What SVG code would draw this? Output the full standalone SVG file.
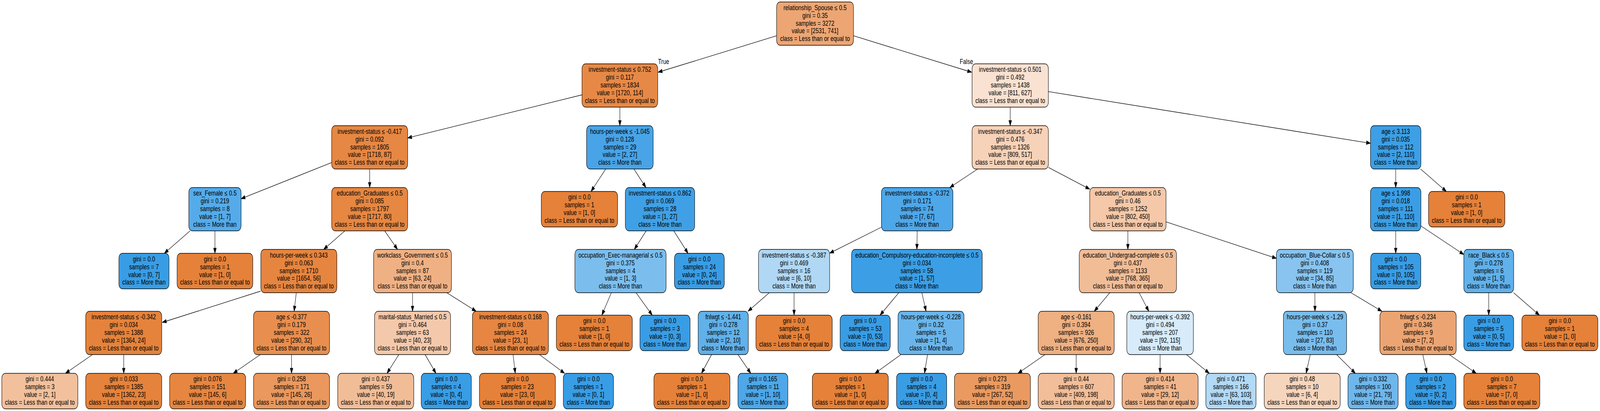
<svg xmlns="http://www.w3.org/2000/svg" width="5263" height="1053" viewBox="0 0 5263 1053" preserveAspectRatio="none">
<style>
svg{width:100vw;height:100vh}
text{font-family:"Liberation Sans",Arial,Helvetica,sans-serif;font-size:18px;fill:#000;text-anchor:middle}
.nd rect{stroke:#000;stroke-width:1.33}
.edges line{stroke:#000;stroke-width:1.33;fill:none}
</style>
<defs>
<marker id="ah" markerUnits="userSpaceOnUse" markerWidth="16" markerHeight="12" refX="13.3" refY="4.67" orient="auto" overflow="visible">
<path d="M0,0 L13.3,4.67 L0,9.33 z" fill="#000" stroke="#000" stroke-width="1"/>
</marker>
</defs>
<rect x="0" y="0" width="5263" height="1053" fill="#fff"/>
<g id="edges" class="edges">
<line x1="2554.5" y1="91.7" x2="2165" y2="185" marker-end="url(#ah)"/>
<line x1="2807.5" y1="91.7" x2="3196" y2="185" marker-end="url(#ah)"/>
<line x1="1914.5" y1="243" x2="1341" y2="353.4" marker-end="url(#ah)"/>
<line x1="2039" y1="274.5" x2="2039" y2="322" marker-end="url(#ah)"/>
<line x1="1091" y1="416.4" x2="793" y2="509.2" marker-end="url(#ah)"/>
<line x1="1216" y1="433" x2="1216" y2="480.5" marker-end="url(#ah)"/>
<line x1="625.2" y1="591.5" x2="540.5" y2="649" marker-end="url(#ah)"/>
<line x1="707" y1="591.5" x2="707" y2="649" marker-end="url(#ah)"/>
<line x1="1134.4" y1="591.5" x2="1064.6" y2="639" marker-end="url(#ah)"/>
<line x1="1265.4" y1="591.5" x2="1307.6" y2="639" marker-end="url(#ah)"/>
<line x1="857" y1="746" x2="534" y2="826" marker-end="url(#ah)"/>
<line x1="974.6" y1="750" x2="967.4" y2="797.5" marker-end="url(#ah)"/>
<line x1="304.2" y1="908.5" x2="215.3" y2="956.5" marker-end="url(#ah)"/>
<line x1="407" y1="908.5" x2="407" y2="956.5" marker-end="url(#ah)"/>
<line x1="856.2" y1="908.5" x2="767.3" y2="956.5" marker-end="url(#ah)"/>
<line x1="959" y1="908.5" x2="959" y2="956.5" marker-end="url(#ah)"/>
<line x1="1357" y1="750" x2="1357" y2="797.5" marker-end="url(#ah)"/>
<line x1="1469.8" y1="750" x2="1566.3" y2="797.5" marker-end="url(#ah)"/>
<line x1="1311.9" y1="908.5" x2="1273" y2="956.5" marker-end="url(#ah)"/>
<line x1="1398.3" y1="908.5" x2="1434.1" y2="956.5" marker-end="url(#ah)"/>
<line x1="1687.6" y1="908.5" x2="1695" y2="956.5" marker-end="url(#ah)"/>
<line x1="1774.5" y1="908.5" x2="1857.2" y2="956.5" marker-end="url(#ah)"/>
<line x1="1992.4" y1="433" x2="1944.2" y2="490.5" marker-end="url(#ah)"/>
<line x1="2085.2" y1="433" x2="2124.8" y2="480.5" marker-end="url(#ah)"/>
<line x1="2125.5" y1="591.5" x2="2086.5" y2="639" marker-end="url(#ah)"/>
<line x1="2216.3" y1="591.5" x2="2263.3" y2="649" marker-end="url(#ah)"/>
<line x1="2010.9" y1="750" x2="1979.7" y2="807.5" marker-end="url(#ah)"/>
<line x1="2092.3" y1="750" x2="2145.4" y2="807.5" marker-end="url(#ah)"/>
<line x1="3323" y1="274.5" x2="3323" y2="322" marker-end="url(#ah)"/>
<line x1="3448.5" y1="234.7" x2="4508" y2="367.1" marker-end="url(#ah)"/>
<line x1="3215.9" y1="433" x2="3124.2" y2="480.5" marker-end="url(#ah)"/>
<line x1="3448.5" y1="428.9" x2="3584.5" y2="484.6" marker-end="url(#ah)"/>
<line x1="2899.5" y1="582" x2="2729" y2="648.7" marker-end="url(#ah)"/>
<line x1="3017" y1="591.5" x2="3016" y2="639" marker-end="url(#ah)"/>
<line x1="2530.4" y1="750" x2="2460.6" y2="797.5" marker-end="url(#ah)"/>
<line x1="2612" y1="750" x2="2612" y2="807.5" marker-end="url(#ah)"/>
<line x1="2340.6" y1="908.5" x2="2307.5" y2="956.5" marker-end="url(#ah)"/>
<line x1="2427.6" y1="908.5" x2="2469.6" y2="956.5" marker-end="url(#ah)"/>
<line x1="2956.5" y1="750" x2="2894.8" y2="807.5" marker-end="url(#ah)"/>
<line x1="3032.3" y1="750" x2="3046.2" y2="797.5" marker-end="url(#ah)"/>
<line x1="2963.6" y1="908.5" x2="2878.1" y2="956.5" marker-end="url(#ah)"/>
<line x1="3051" y1="908.5" x2="3041" y2="956.5" marker-end="url(#ah)"/>
<line x1="3710" y1="591.5" x2="3710" y2="639" marker-end="url(#ah)"/>
<line x1="3835.5" y1="568.3" x2="4198.5" y2="661.9" marker-end="url(#ah)"/>
<line x1="3650.5" y1="750" x2="3599.5" y2="797.5" marker-end="url(#ah)"/>
<line x1="3747.1" y1="750" x2="3778.9" y2="797.5" marker-end="url(#ah)"/>
<line x1="3437.4" y1="908.5" x2="3348.6" y2="956.5" marker-end="url(#ah)"/>
<line x1="3540" y1="908.5" x2="3540" y2="956.5" marker-end="url(#ah)"/>
<line x1="3816" y1="908.5" x2="3816" y2="956.5" marker-end="url(#ah)"/>
<line x1="3902.8" y1="908.5" x2="3977.8" y2="956.5" marker-end="url(#ah)"/>
<line x1="4325" y1="750" x2="4325.5" y2="797.5" marker-end="url(#ah)"/>
<line x1="4443.9" y1="750" x2="4545.6" y2="797.5" marker-end="url(#ah)"/>
<line x1="4309.9" y1="908.5" x2="4296.3" y2="956.5" marker-end="url(#ah)"/>
<line x1="4396.6" y1="908.5" x2="4458.2" y2="956.5" marker-end="url(#ah)"/>
<line x1="4680.1" y1="908.5" x2="4693.7" y2="956.5" marker-end="url(#ah)"/>
<line x1="4767.1" y1="908.5" x2="4855.9" y2="956.5" marker-end="url(#ah)"/>
<line x1="4591" y1="433" x2="4591" y2="480.5" marker-end="url(#ah)"/>
<line x1="4672.8" y1="433" x2="4757.5" y2="490.5" marker-end="url(#ah)"/>
<line x1="4591" y1="591.5" x2="4591" y2="649" marker-end="url(#ah)"/>
<line x1="4674" y1="579" x2="4815" y2="652" marker-end="url(#ah)"/>
<line x1="4897" y1="750" x2="4897" y2="807.5" marker-end="url(#ah)"/>
<line x1="4978.9" y1="750" x2="5063.8" y2="807.5" marker-end="url(#ah)"/>
<text x="2183" y="164">True</text>
<text x="3179" y="164">False</text>
</g>

<g id="n0" class="nd" transform="translate(2681,60.5)"><rect x="-126.5" y="-55.5" width="253" height="111" rx="12" fill="#eda673"/><text><tspan x="0" y="-35">relationship_Spouse ≤ 0.5</tspan><tspan x="0" y="-15">gini = 0.35</tspan><tspan x="0" y="5">samples = 3272</tspan><tspan x="0" y="25">value = [2531, 741]</tspan><tspan x="0" y="45">class = Less than or equal to</tspan></text></g>
<g id="n1" class="nd" transform="translate(2039,219)"><rect x="-124.5" y="-55.5" width="249" height="111" rx="12" fill="#e78946"/><text><tspan x="0" y="-35">investment-status ≤ 0.752</tspan><tspan x="0" y="-15">gini = 0.117</tspan><tspan x="0" y="5">samples = 1834</tspan><tspan x="0" y="25">value = [1720, 114]</tspan><tspan x="0" y="45">class = Less than or equal to</tspan></text></g>
<g id="n2" class="nd" transform="translate(1216,377.5)"><rect x="-125" y="-55.5" width="250" height="111" rx="12" fill="#e68743"/><text><tspan x="0" y="-35">investment-status ≤ -0.417</tspan><tspan x="0" y="-15">gini = 0.092</tspan><tspan x="0" y="5">samples = 1805</tspan><tspan x="0" y="25">value = [1718, 87]</tspan><tspan x="0" y="45">class = Less than or equal to</tspan></text></g>
<g id="n3" class="nd" transform="translate(707,536)"><rect x="-86" y="-55.5" width="172" height="111" rx="12" fill="#55abe9"/><text><tspan x="0" y="-35">sex_Female ≤ 0.5</tspan><tspan x="0" y="-15">gini = 0.219</tspan><tspan x="0" y="5">samples = 8</tspan><tspan x="0" y="25">value = [1, 7]</tspan><tspan x="0" y="45">class = More than</tspan></text></g>
<g id="n4" class="nd" transform="translate(473.5,694.5)"><rect x="-82.5" y="-45.5" width="165" height="91" rx="12" fill="#399de5"/><text><tspan x="0" y="-25">gini = 0.0</tspan><tspan x="0" y="-5">samples = 7</tspan><tspan x="0" y="15">value = [0, 7]</tspan><tspan x="0" y="35">class = More than</tspan></text></g>
<g id="n5" class="nd" transform="translate(707,694.5)"><rect x="-124.5" y="-45.5" width="249" height="91" rx="12" fill="#e58139"/><text><tspan x="0" y="-25">gini = 0.0</tspan><tspan x="0" y="-5">samples = 1</tspan><tspan x="0" y="15">value = [1, 0]</tspan><tspan x="0" y="35">class = Less than or equal to</tspan></text></g>
<g id="n6" class="nd" transform="translate(1216,536)"><rect x="-125" y="-55.5" width="250" height="111" rx="12" fill="#e68742"/><text><tspan x="0" y="-35">education_Graduates ≤ 0.5</tspan><tspan x="0" y="-15">gini = 0.085</tspan><tspan x="0" y="5">samples = 1797</tspan><tspan x="0" y="25">value = [1717, 80]</tspan><tspan x="0" y="45">class = Less than or equal to</tspan></text></g>
<g id="n7" class="nd" transform="translate(983,694.5)"><rect x="-125" y="-55.5" width="250" height="111" rx="12" fill="#e6853f"/><text><tspan x="0" y="-35">hours-per-week ≤ 0.343</tspan><tspan x="0" y="-15">gini = 0.063</tspan><tspan x="0" y="5">samples = 1710</tspan><tspan x="0" y="25">value = [1654, 56]</tspan><tspan x="0" y="45">class = Less than or equal to</tspan></text></g>
<g id="n8" class="nd" transform="translate(407,853)"><rect x="-125" y="-55.5" width="250" height="111" rx="12" fill="#e5833c"/><text><tspan x="0" y="-35">investment-status ≤ -0.342</tspan><tspan x="0" y="-15">gini = 0.034</tspan><tspan x="0" y="5">samples = 1388</tspan><tspan x="0" y="25">value = [1364, 24]</tspan><tspan x="0" y="45">class = Less than or equal to</tspan></text></g>
<g id="n9" class="nd" transform="translate(131,1002)"><rect x="-125" y="-45.5" width="250" height="91" rx="12" fill="#f2c09c"/><text><tspan x="0" y="-25">gini = 0.444</tspan><tspan x="0" y="-5">samples = 3</tspan><tspan x="0" y="15">value = [2, 1]</tspan><tspan x="0" y="35">class = Less than or equal to</tspan></text></g>
<g id="n10" class="nd" transform="translate(407,1002)"><rect x="-125" y="-45.5" width="250" height="91" rx="12" fill="#e5833c"/><text><tspan x="0" y="-25">gini = 0.033</tspan><tspan x="0" y="-5">samples = 1385</tspan><tspan x="0" y="15">value = [1362, 23]</tspan><tspan x="0" y="35">class = Less than or equal to</tspan></text></g>
<g id="n11" class="nd" transform="translate(959,853)"><rect x="-125" y="-55.5" width="250" height="111" rx="12" fill="#e88f4f"/><text><tspan x="0" y="-35">age ≤ -0.377</tspan><tspan x="0" y="-15">gini = 0.179</tspan><tspan x="0" y="5">samples = 322</tspan><tspan x="0" y="25">value = [290, 32]</tspan><tspan x="0" y="45">class = Less than or equal to</tspan></text></g>
<g id="n12" class="nd" transform="translate(683,1002)"><rect x="-125" y="-45.5" width="250" height="91" rx="12" fill="#e68641"/><text><tspan x="0" y="-25">gini = 0.076</tspan><tspan x="0" y="-5">samples = 151</tspan><tspan x="0" y="15">value = [145, 6]</tspan><tspan x="0" y="35">class = Less than or equal to</tspan></text></g>
<g id="n13" class="nd" transform="translate(959,1002)"><rect x="-125" y="-45.5" width="250" height="91" rx="12" fill="#ea985d"/><text><tspan x="0" y="-25">gini = 0.258</tspan><tspan x="0" y="-5">samples = 171</tspan><tspan x="0" y="15">value = [145, 26]</tspan><tspan x="0" y="35">class = Less than or equal to</tspan></text></g>
<g id="n14" class="nd" transform="translate(1357,694.5)"><rect x="-128" y="-55.5" width="256" height="111" rx="12" fill="#efb184"/><text><tspan x="0" y="-35">workclass_Government ≤ 0.5</tspan><tspan x="0" y="-15">gini = 0.4</tspan><tspan x="0" y="5">samples = 87</tspan><tspan x="0" y="25">value = [63, 24]</tspan><tspan x="0" y="45">class = Less than or equal to</tspan></text></g>
<g id="n15" class="nd" transform="translate(1357,853)"><rect x="-125" y="-55.5" width="250" height="111" rx="12" fill="#f4c9ab"/><text><tspan x="0" y="-35">marital-status_Married ≤ 0.5</tspan><tspan x="0" y="-15">gini = 0.464</tspan><tspan x="0" y="5">samples = 63</tspan><tspan x="0" y="25">value = [40, 23]</tspan><tspan x="0" y="45">class = Less than or equal to</tspan></text></g>
<g id="n16" class="nd" transform="translate(1236,1002)"><rect x="-125" y="-45.5" width="250" height="91" rx="12" fill="#f1bd97"/><text><tspan x="0" y="-25">gini = 0.437</tspan><tspan x="0" y="-5">samples = 59</tspan><tspan x="0" y="15">value = [40, 19]</tspan><tspan x="0" y="35">class = Less than or equal to</tspan></text></g>
<g id="n17" class="nd" transform="translate(1468,1002)"><rect x="-82.5" y="-45.5" width="165" height="91" rx="12" fill="#399de5"/><text><tspan x="0" y="-25">gini = 0.0</tspan><tspan x="0" y="-5">samples = 4</tspan><tspan x="0" y="15">value = [0, 4]</tspan><tspan x="0" y="35">class = More than</tspan></text></g>
<g id="n18" class="nd" transform="translate(1679,853)"><rect x="-125" y="-55.5" width="250" height="111" rx="12" fill="#e68642"/><text><tspan x="0" y="-35">investment-status ≤ 0.168</tspan><tspan x="0" y="-15">gini = 0.08</tspan><tspan x="0" y="5">samples = 24</tspan><tspan x="0" y="25">value = [23, 1]</tspan><tspan x="0" y="45">class = Less than or equal to</tspan></text></g>
<g id="n19" class="nd" transform="translate(1702,1002)"><rect x="-125" y="-45.5" width="250" height="91" rx="12" fill="#e58139"/><text><tspan x="0" y="-25">gini = 0.0</tspan><tspan x="0" y="-5">samples = 23</tspan><tspan x="0" y="15">value = [23, 0]</tspan><tspan x="0" y="35">class = Less than or equal to</tspan></text></g>
<g id="n20" class="nd" transform="translate(1935.5,1002)"><rect x="-82.5" y="-45.5" width="165" height="91" rx="12" fill="#399de5"/><text><tspan x="0" y="-25">gini = 0.0</tspan><tspan x="0" y="-5">samples = 1</tspan><tspan x="0" y="15">value = [0, 1]</tspan><tspan x="0" y="35">class = More than</tspan></text></g>
<g id="n21" class="nd" transform="translate(2039,377.5)"><rect x="-109.5" y="-55.5" width="219" height="111" rx="12" fill="#48a4e7"/><text><tspan x="0" y="-35">hours-per-week ≤ -1.045</tspan><tspan x="0" y="-15">gini = 0.128</tspan><tspan x="0" y="5">samples = 29</tspan><tspan x="0" y="25">value = [2, 27]</tspan><tspan x="0" y="45">class = More than</tspan></text></g>
<g id="n22" class="nd" transform="translate(1906,536)"><rect x="-125.5" y="-45.5" width="251" height="91" rx="12" fill="#e58139"/><text><tspan x="0" y="-25">gini = 0.0</tspan><tspan x="0" y="-5">samples = 1</tspan><tspan x="0" y="15">value = [1, 0]</tspan><tspan x="0" y="35">class = Less than or equal to</tspan></text></g>
<g id="n23" class="nd" transform="translate(2171,536)"><rect x="-114" y="-55.5" width="228" height="111" rx="12" fill="#40a0e6"/><text><tspan x="0" y="-35">investment-status ≤ 0.862</tspan><tspan x="0" y="-15">gini = 0.069</tspan><tspan x="0" y="5">samples = 28</tspan><tspan x="0" y="25">value = [1, 27]</tspan><tspan x="0" y="45">class = More than</tspan></text></g>
<g id="n24" class="nd" transform="translate(2041,694.5)"><rect x="-150" y="-55.5" width="300" height="111" rx="12" fill="#7bbeee"/><text><tspan x="0" y="-35">occupation_Exec-managerial ≤ 0.5</tspan><tspan x="0" y="-15">gini = 0.375</tspan><tspan x="0" y="5">samples = 4</tspan><tspan x="0" y="25">value = [1, 3]</tspan><tspan x="0" y="45">class = More than</tspan></text></g>
<g id="n25" class="nd" transform="translate(1955,853)"><rect x="-125" y="-45.5" width="250" height="91" rx="12" fill="#e58139"/><text><tspan x="0" y="-25">gini = 0.0</tspan><tspan x="0" y="-5">samples = 1</tspan><tspan x="0" y="15">value = [1, 0]</tspan><tspan x="0" y="35">class = Less than or equal to</tspan></text></g>
<g id="n26" class="nd" transform="translate(2187.5,853)"><rect x="-82.5" y="-45.5" width="165" height="91" rx="12" fill="#399de5"/><text><tspan x="0" y="-25">gini = 0.0</tspan><tspan x="0" y="-5">samples = 3</tspan><tspan x="0" y="15">value = [0, 3]</tspan><tspan x="0" y="35">class = More than</tspan></text></g>
<g id="n27" class="nd" transform="translate(2300.5,694.5)"><rect x="-82" y="-45.5" width="164" height="91" rx="12" fill="#399de5"/><text><tspan x="0" y="-25">gini = 0.0</tspan><tspan x="0" y="-5">samples = 24</tspan><tspan x="0" y="15">value = [0, 24]</tspan><tspan x="0" y="35">class = More than</tspan></text></g>
<g id="n28" class="nd" transform="translate(3323,219)"><rect x="-125.5" y="-55.5" width="251" height="111" rx="12" fill="#f9e2d2"/><text><tspan x="0" y="-35">investment-status ≤ 0.501</tspan><tspan x="0" y="-15">gini = 0.492</tspan><tspan x="0" y="5">samples = 1438</tspan><tspan x="0" y="25">value = [811, 627]</tspan><tspan x="0" y="45">class = Less than or equal to</tspan></text></g>
<g id="n29" class="nd" transform="translate(3323,377.5)"><rect x="-125.5" y="-55.5" width="251" height="111" rx="12" fill="#f6d2b8"/><text><tspan x="0" y="-35">investment-status ≤ -0.347</tspan><tspan x="0" y="-15">gini = 0.476</tspan><tspan x="0" y="5">samples = 1326</tspan><tspan x="0" y="25">value = [809, 517]</tspan><tspan x="0" y="45">class = Less than or equal to</tspan></text></g>
<g id="n30" class="nd" transform="translate(3017,536)"><rect x="-117.5" y="-55.5" width="235" height="111" rx="12" fill="#4ea7e8"/><text><tspan x="0" y="-35">investment-status ≤ -0.372</tspan><tspan x="0" y="-15">gini = 0.171</tspan><tspan x="0" y="5">samples = 74</tspan><tspan x="0" y="25">value = [7, 67]</tspan><tspan x="0" y="45">class = More than</tspan></text></g>
<g id="n31" class="nd" transform="translate(2612,694.5)"><rect x="-117" y="-55.5" width="234" height="111" rx="12" fill="#b0d8f5"/><text><tspan x="0" y="-35">investment-status ≤ -0.387</tspan><tspan x="0" y="-15">gini = 0.469</tspan><tspan x="0" y="5">samples = 16</tspan><tspan x="0" y="25">value = [6, 10]</tspan><tspan x="0" y="45">class = More than</tspan></text></g>
<g id="n32" class="nd" transform="translate(2379,853)"><rect x="-82.5" y="-55.5" width="165" height="111" rx="12" fill="#61b1ea"/><text><tspan x="0" y="-35">fnlwgt ≤ -1.441</tspan><tspan x="0" y="-15">gini = 0.278</tspan><tspan x="0" y="5">samples = 12</tspan><tspan x="0" y="25">value = [2, 10]</tspan><tspan x="0" y="45">class = More than</tspan></text></g>
<g id="n33" class="nd" transform="translate(2276,1002)"><rect x="-125" y="-45.5" width="250" height="91" rx="12" fill="#e58139"/><text><tspan x="0" y="-25">gini = 0.0</tspan><tspan x="0" y="-5">samples = 1</tspan><tspan x="0" y="15">value = [1, 0]</tspan><tspan x="0" y="35">class = Less than or equal to</tspan></text></g>
<g id="n34" class="nd" transform="translate(2509.5,1002)"><rect x="-82" y="-45.5" width="164" height="91" rx="12" fill="#4da7e8"/><text><tspan x="0" y="-25">gini = 0.165</tspan><tspan x="0" y="-5">samples = 11</tspan><tspan x="0" y="15">value = [1, 10]</tspan><tspan x="0" y="35">class = More than</tspan></text></g>
<g id="n35" class="nd" transform="translate(2612,853)"><rect x="-125.5" y="-45.5" width="251" height="91" rx="12" fill="#e58139"/><text><tspan x="0" y="-25">gini = 0.0</tspan><tspan x="0" y="-5">samples = 4</tspan><tspan x="0" y="15">value = [4, 0]</tspan><tspan x="0" y="35">class = Less than or equal to</tspan></text></g>
<g id="n36" class="nd" transform="translate(3016,694.5)"><rect x="-215" y="-55.5" width="430" height="111" rx="12" fill="#3c9fe5"/><text><tspan x="0" y="-35">education_Compulsory-education-incomplete ≤ 0.5</tspan><tspan x="0" y="-15">gini = 0.034</tspan><tspan x="0" y="5">samples = 58</tspan><tspan x="0" y="25">value = [1, 57]</tspan><tspan x="0" y="45">class = More than</tspan></text></g>
<g id="n37" class="nd" transform="translate(2846,853)"><rect x="-82.5" y="-45.5" width="165" height="91" rx="12" fill="#399de5"/><text><tspan x="0" y="-25">gini = 0.0</tspan><tspan x="0" y="-5">samples = 53</tspan><tspan x="0" y="15">value = [0, 53]</tspan><tspan x="0" y="35">class = More than</tspan></text></g>
<g id="n38" class="nd" transform="translate(3062.5,853)"><rect x="-108.5" y="-55.5" width="217" height="111" rx="12" fill="#6ab6ec"/><text><tspan x="0" y="-35">hours-per-week ≤ -0.228</tspan><tspan x="0" y="-15">gini = 0.32</tspan><tspan x="0" y="5">samples = 5</tspan><tspan x="0" y="25">value = [1, 4]</tspan><tspan x="0" y="45">class = More than</tspan></text></g>
<g id="n39" class="nd" transform="translate(2797,1002)"><rect x="-125" y="-45.5" width="250" height="91" rx="12" fill="#e58139"/><text><tspan x="0" y="-25">gini = 0.0</tspan><tspan x="0" y="-5">samples = 1</tspan><tspan x="0" y="15">value = [1, 0]</tspan><tspan x="0" y="35">class = Less than or equal to</tspan></text></g>
<g id="n40" class="nd" transform="translate(3031.5,1002)"><rect x="-82.5" y="-45.5" width="165" height="91" rx="12" fill="#399de5"/><text><tspan x="0" y="-25">gini = 0.0</tspan><tspan x="0" y="-5">samples = 4</tspan><tspan x="0" y="15">value = [0, 4]</tspan><tspan x="0" y="35">class = More than</tspan></text></g>
<g id="n41" class="nd" transform="translate(3710,536)"><rect x="-125.5" y="-55.5" width="251" height="111" rx="12" fill="#f4c8a8"/><text><tspan x="0" y="-35">education_Graduates ≤ 0.5</tspan><tspan x="0" y="-15">gini = 0.46</tspan><tspan x="0" y="5">samples = 1252</tspan><tspan x="0" y="25">value = [802, 450]</tspan><tspan x="0" y="45">class = Less than or equal to</tspan></text></g>
<g id="n42" class="nd" transform="translate(3710,694.5)"><rect x="-160" y="-55.5" width="320" height="111" rx="12" fill="#f1bd97"/><text><tspan x="0" y="-35">education_Undergrad-complete ≤ 0.5</tspan><tspan x="0" y="-15">gini = 0.437</tspan><tspan x="0" y="5">samples = 1133</tspan><tspan x="0" y="25">value = [768, 365]</tspan><tspan x="0" y="45">class = Less than or equal to</tspan></text></g>
<g id="n43" class="nd" transform="translate(3540,853)"><rect x="-125" y="-55.5" width="250" height="111" rx="12" fill="#efb082"/><text><tspan x="0" y="-35">age ≤ -0.161</tspan><tspan x="0" y="-15">gini = 0.394</tspan><tspan x="0" y="5">samples = 926</tspan><tspan x="0" y="25">value = [676, 250]</tspan><tspan x="0" y="45">class = Less than or equal to</tspan></text></g>
<g id="n44" class="nd" transform="translate(3264.5,1002)"><rect x="-125" y="-45.5" width="250" height="91" rx="12" fill="#ea9a60"/><text><tspan x="0" y="-25">gini = 0.273</tspan><tspan x="0" y="-5">samples = 319</tspan><tspan x="0" y="15">value = [267, 52]</tspan><tspan x="0" y="35">class = Less than or equal to</tspan></text></g>
<g id="n45" class="nd" transform="translate(3540,1002)"><rect x="-125" y="-45.5" width="250" height="91" rx="12" fill="#f2be99"/><text><tspan x="0" y="-25">gini = 0.44</tspan><tspan x="0" y="-5">samples = 607</tspan><tspan x="0" y="15">value = [409, 198]</tspan><tspan x="0" y="35">class = Less than or equal to</tspan></text></g>
<g id="n46" class="nd" transform="translate(3816,853)"><rect x="-109.5" y="-55.5" width="219" height="111" rx="12" fill="#d7ebfa"/><text><tspan x="0" y="-35">hours-per-week ≤ -0.392</tspan><tspan x="0" y="-15">gini = 0.494</tspan><tspan x="0" y="5">samples = 207</tspan><tspan x="0" y="25">value = [92, 115]</tspan><tspan x="0" y="45">class = More than</tspan></text></g>
<g id="n47" class="nd" transform="translate(3816,1002)"><rect x="-125" y="-45.5" width="250" height="91" rx="12" fill="#f0b58b"/><text><tspan x="0" y="-25">gini = 0.414</tspan><tspan x="0" y="-5">samples = 41</tspan><tspan x="0" y="15">value = [29, 12]</tspan><tspan x="0" y="35">class = Less than or equal to</tspan></text></g>
<g id="n48" class="nd" transform="translate(4049,1002)"><rect x="-82.5" y="-45.5" width="165" height="91" rx="12" fill="#b2d9f5"/><text><tspan x="0" y="-25">gini = 0.471</tspan><tspan x="0" y="-5">samples = 166</tspan><tspan x="0" y="15">value = [63, 103]</tspan><tspan x="0" y="35">class = More than</tspan></text></g>
<g id="n49" class="nd" transform="translate(4325,694.5)"><rect x="-126.5" y="-55.5" width="253" height="111" rx="12" fill="#88c4ef"/><text><tspan x="0" y="-35">occupation_Blue-Collar ≤ 0.5</tspan><tspan x="0" y="-15">gini = 0.408</tspan><tspan x="0" y="5">samples = 119</tspan><tspan x="0" y="25">value = [34, 85]</tspan><tspan x="0" y="45">class = More than</tspan></text></g>
<g id="n50" class="nd" transform="translate(4325.5,853)"><rect x="-104" y="-55.5" width="208" height="111" rx="12" fill="#79bded"/><text><tspan x="0" y="-35">hours-per-week ≤ -1.29</tspan><tspan x="0" y="-15">gini = 0.37</tspan><tspan x="0" y="5">samples = 110</tspan><tspan x="0" y="25">value = [27, 83]</tspan><tspan x="0" y="45">class = More than</tspan></text></g>
<g id="n51" class="nd" transform="translate(4283.5,1002)"><rect x="-125" y="-45.5" width="250" height="91" rx="12" fill="#f6d5bd"/><text><tspan x="0" y="-25">gini = 0.48</tspan><tspan x="0" y="-5">samples = 10</tspan><tspan x="0" y="15">value = [6, 4]</tspan><tspan x="0" y="35">class = Less than or equal to</tspan></text></g>
<g id="n52" class="nd" transform="translate(4516.5,1002)"><rect x="-82.5" y="-45.5" width="165" height="91" rx="12" fill="#6eb7ec"/><text><tspan x="0" y="-25">gini = 0.332</tspan><tspan x="0" y="-5">samples = 100</tspan><tspan x="0" y="15">value = [21, 79]</tspan><tspan x="0" y="35">class = More than</tspan></text></g>
<g id="n53" class="nd" transform="translate(4664.5,853)"><rect x="-125.5" y="-55.5" width="251" height="111" rx="12" fill="#eca572"/><text><tspan x="0" y="-35">fnlwgt ≤ -0.234</tspan><tspan x="0" y="-15">gini = 0.346</tspan><tspan x="0" y="5">samples = 9</tspan><tspan x="0" y="25">value = [7, 2]</tspan><tspan x="0" y="45">class = Less than or equal to</tspan></text></g>
<g id="n54" class="nd" transform="translate(4706.5,1002)"><rect x="-82.5" y="-45.5" width="165" height="91" rx="12" fill="#399de5"/><text><tspan x="0" y="-25">gini = 0.0</tspan><tspan x="0" y="-5">samples = 2</tspan><tspan x="0" y="15">value = [0, 2]</tspan><tspan x="0" y="35">class = More than</tspan></text></g>
<g id="n55" class="nd" transform="translate(4940,1002)"><rect x="-125" y="-45.5" width="250" height="91" rx="12" fill="#e58139"/><text><tspan x="0" y="-25">gini = 0.0</tspan><tspan x="0" y="-5">samples = 7</tspan><tspan x="0" y="15">value = [7, 0]</tspan><tspan x="0" y="35">class = Less than or equal to</tspan></text></g>
<g id="n56" class="nd" transform="translate(4591,377.5)"><rect x="-83" y="-55.5" width="166" height="111" rx="12" fill="#3d9fe5"/><text><tspan x="0" y="-35">age ≤ 3.113</tspan><tspan x="0" y="-15">gini = 0.035</tspan><tspan x="0" y="5">samples = 112</tspan><tspan x="0" y="25">value = [2, 110]</tspan><tspan x="0" y="45">class = More than</tspan></text></g>
<g id="n57" class="nd" transform="translate(4591,536)"><rect x="-83" y="-55.5" width="166" height="111" rx="12" fill="#3b9ee5"/><text><tspan x="0" y="-35">age ≤ 1.998</tspan><tspan x="0" y="-15">gini = 0.018</tspan><tspan x="0" y="5">samples = 111</tspan><tspan x="0" y="25">value = [1, 110]</tspan><tspan x="0" y="45">class = More than</tspan></text></g>
<g id="n58" class="nd" transform="translate(4591,694.5)"><rect x="-82.5" y="-45.5" width="165" height="91" rx="12" fill="#399de5"/><text><tspan x="0" y="-25">gini = 0.0</tspan><tspan x="0" y="-5">samples = 105</tspan><tspan x="0" y="15">value = [0, 105]</tspan><tspan x="0" y="35">class = More than</tspan></text></g>
<g id="n59" class="nd" transform="translate(4897,694.5)"><rect x="-82" y="-55.5" width="164" height="111" rx="12" fill="#61b1ea"/><text><tspan x="0" y="-35">race_Black ≤ 0.5</tspan><tspan x="0" y="-15">gini = 0.278</tspan><tspan x="0" y="5">samples = 6</tspan><tspan x="0" y="25">value = [1, 5]</tspan><tspan x="0" y="45">class = More than</tspan></text></g>
<g id="n60" class="nd" transform="translate(4897,853)"><rect x="-82" y="-45.5" width="164" height="91" rx="12" fill="#399de5"/><text><tspan x="0" y="-25">gini = 0.0</tspan><tspan x="0" y="-5">samples = 5</tspan><tspan x="0" y="15">value = [0, 5]</tspan><tspan x="0" y="35">class = More than</tspan></text></g>
<g id="n61" class="nd" transform="translate(5131,853)"><rect x="-125" y="-45.5" width="250" height="91" rx="12" fill="#e58139"/><text><tspan x="0" y="-25">gini = 0.0</tspan><tspan x="0" y="-5">samples = 1</tspan><tspan x="0" y="15">value = [1, 0]</tspan><tspan x="0" y="35">class = Less than or equal to</tspan></text></g>
<g id="n62" class="nd" transform="translate(4824.5,536)"><rect x="-125.5" y="-45.5" width="251" height="91" rx="12" fill="#e58139"/><text><tspan x="0" y="-25">gini = 0.0</tspan><tspan x="0" y="-5">samples = 1</tspan><tspan x="0" y="15">value = [1, 0]</tspan><tspan x="0" y="35">class = Less than or equal to</tspan></text></g>
</svg>
